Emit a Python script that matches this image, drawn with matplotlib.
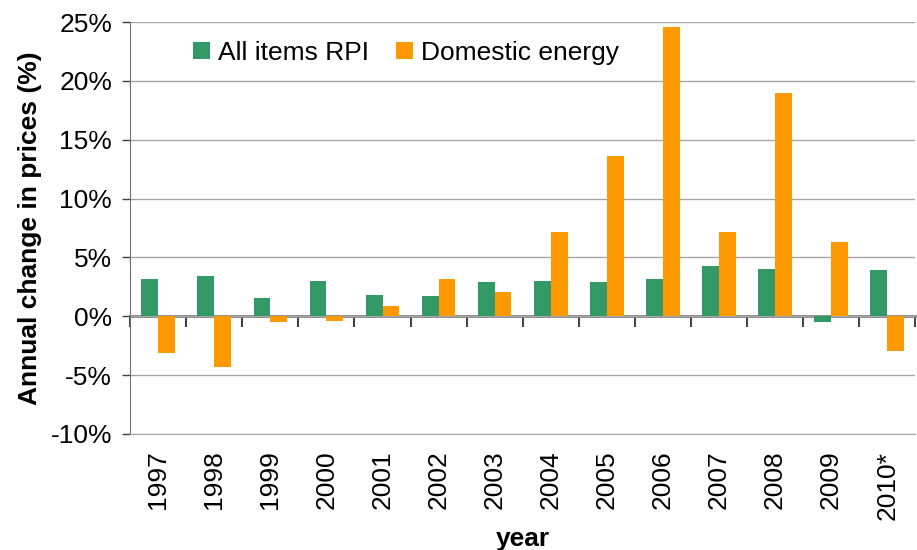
import numpy as np
import matplotlib.pyplot as plt

plt.rcParams['font.family'] = ['Liberation Sans', 'DejaVu Sans']

years = ['1997', '1998', '1999', '2000', '2001', '2002', '2003',
         '2004', '2005', '2006', '2007', '2008', '2009', '2010*']
rpi = [3.15, 3.4, 1.55, 3.0, 1.8, 1.7, 2.9, 3.0, 2.9, 3.2, 4.3, 4.0, -0.5, 3.9]
energy = [-3.1, -4.3, -0.5, -0.4, 0.85, 3.15, 2.05, 7.15, 13.6, 24.6, 7.15, 19.0, 6.3, -2.95]

green = '#339966'
orange = '#ff9900'

fig = plt.figure(figsize=(9.17, 5.5), dpi=100)
ax = fig.add_axes([0.142, 0.211, 0.856, 0.749])

x = np.arange(len(years))
w = 0.3
ax.bar(x - w / 2, rpi, w, color=green, label='All items RPI', zorder=3)
ax.bar(x + w / 2, energy, w, color=orange, label='Domestic energy', zorder=3)

ax.set_xlim(-0.5, len(years) - 0.5)
ax.set_ylim(-10, 25)
ax.set_yticks(np.arange(-10, 26, 5))
ax.set_yticklabels([f'{v}%' for v in range(-10, 26, 5)], fontsize=19)
ax.yaxis.grid(True, color='#a6a6a6', linewidth=1, zorder=0)

ax.set_xticks(x)
ax.set_xticklabels(years, rotation=90, fontsize=19)
ax.tick_params(axis='x', length=0, pad=12)
ax.tick_params(axis='y', direction='out', length=6, width=1, color='#404040', pad=7)

for s in ['top', 'right']:
    ax.spines[s].set_visible(False)
ax.spines['bottom'].set_color('#a6a6a6')
ax.spines['left'].set_color('#707070')

# zero line with category boundary ticks
zero = ax.secondary_xaxis(10 / 35)
zero.set_xticks(np.arange(-0.5, len(years), 1))
zero.tick_params(direction='out', length=8, width=1.2, color='#202020', labelbottom=False)
zero.spines['bottom'].set_color('#808080')
zero.spines['bottom'].set_linewidth(2)

ax.set_ylabel('Annual change in prices (%)', fontsize=19, fontweight='bold', labelpad=6)
ax.set_xlabel('year', fontsize=19, fontweight='bold', labelpad=5)

ax.legend(loc='upper left', bbox_to_anchor=(0.05, 1.012), ncol=2, frameon=False,
          fontsize=19, handlelength=0.65, handleheight=0.65, handletextpad=0.3,
          columnspacing=1.0)

fig.savefig('out.png', dpi=100)
